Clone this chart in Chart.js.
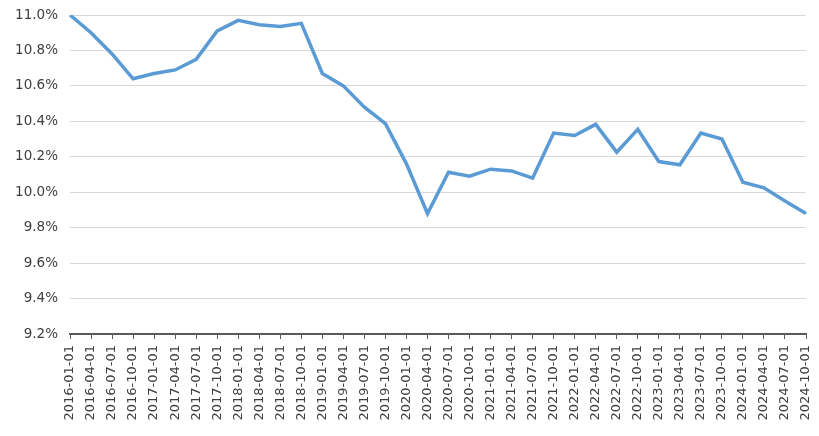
<!DOCTYPE html>
<html>
<head>
<meta charset="utf-8">
<script src="https://cdn.jsdelivr.net/npm/chart.js@4/dist/chart.umd.min.js"></script>
<style>
  html, body { margin: 0; padding: 0; background: #ffffff; }
  #wrap { width: 819px; height: 436px; position: relative; }
</style>
</head>
<body>
<div id="wrap"><canvas id="c"></canvas></div>
<script>
const categories = [
  "2016-01-01","2016-04-01","2016-07-01","2016-10-01",
  "2017-01-01","2017-04-01","2017-07-01","2017-10-01",
  "2018-01-01","2018-04-01","2018-07-01","2018-10-01",
  "2019-01-01","2019-04-01","2019-07-01","2019-10-01",
  "2020-01-01","2020-04-01","2020-07-01","2020-10-01",
  "2021-01-01","2021-04-01","2021-07-01","2021-10-01",
  "2022-01-01","2022-04-01","2022-07-01","2022-10-01",
  "2023-01-01","2023-04-01","2023-07-01","2023-10-01",
  "2024-01-01","2024-04-01","2024-07-01","2024-10-01"
];
const rateValues = [
  11.00, 10.90, 10.78, 10.64,
  10.67, 10.69, 10.75, 10.91,
  10.97, 10.945, 10.935, 10.953,
  10.67, 10.60, 10.48, 10.387,
  10.16, 9.88, 10.113, 10.09,
  10.13, 10.12, 10.08, 10.334,
  10.32, 10.383, 10.226, 10.355,
  10.173, 10.155, 10.334, 10.30,
  10.056, 10.025, 9.95, 9.88
];
const yMin = 9.2;
const yMax = 11.0;
const yStep = 0.2;

const fontFamily = "'DejaVu Sans', sans-serif";

new Chart(document.getElementById('c'), {
  type: 'line',
  data: {
    labels: categories,
    datasets: [{
      data: rateValues,
      borderColor: '#5b9bd5',
      backgroundColor: '#5b9bd5',
      borderWidth: 3.5,
      pointRadius: 0,
      tension: 0,
      fill: false
    }]
  },
  options: {
    responsive: true,
    maintainAspectRatio: false,
    animation: false,
    layout: { padding: { left: 0, right: 13, top: 15, bottom: 0 } },
    plugins: { legend: { display: false }, tooltip: { enabled: false } },
    scales: {
      x: {
        offset: false,
        grid: { drawOnChartArea: false, drawTicks: true, tickLength: 5, color: '#595959', lineWidth: 1 },
        border: { display: true, color: '#595959', width: 2 },
        ticks: {
          autoSkip: false, maxRotation: 90, minRotation: 90,
          color: '#404040', font: { family: fontFamily, size: 13 }, padding: 6
        },
        afterFit: function(scale) {
          scale.height = 102;
          scale.paddingLeft = 0;
          scale.paddingRight = 0;
        }
      },
      y: {
        min: yMin, max: yMax,
        grid: { color: '#d9d9d9', lineWidth: 1, drawTicks: false },
        border: { display: false },
        ticks: {
          stepSize: yStep,
          color: '#404040',
          font: { family: fontFamily, size: 13.5 },
          padding: 12,
          callback: function(v) { return Number(v).toFixed(1) + '%'; }
        },
        afterFit: function(scale) {
          scale.width = 70;
          scale.paddingTop = 0;
          scale.paddingBottom = 0;
        }
      }
    }
  }
});
</script>
</body>
</html>
